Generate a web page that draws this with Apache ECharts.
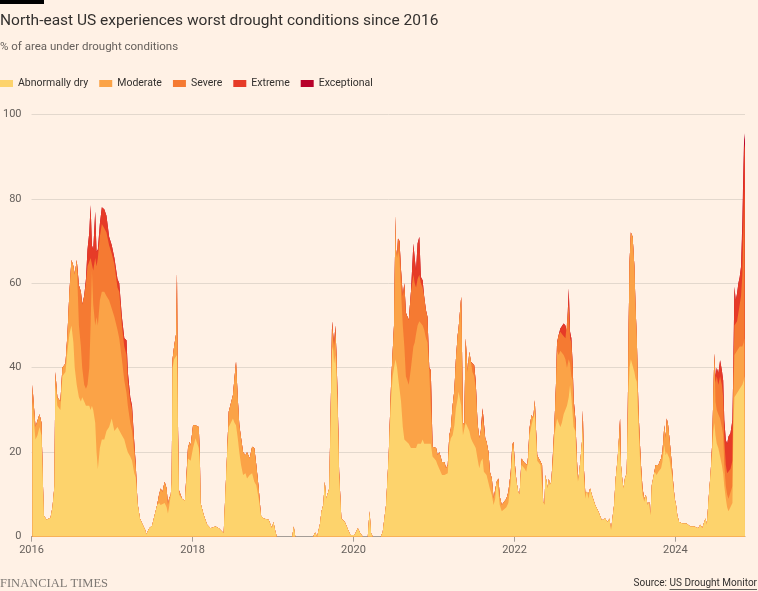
<!DOCTYPE html>
<html><head><meta charset="utf-8">
<script src="https://cdn.jsdelivr.net/npm/echarts@6/dist/echarts.min.js"></script>
<style>html,body{margin:0;padding:0;background:#fff1e5;}#c{width:758px;height:591px;}</style>
</head><body><div id="c"></div>
<script>
// Weekly-ish readings, % of area (non-cumulative per category)
const dates = [
'2016-01-05','2016-01-10','2016-01-19','2016-01-28','2016-02-06','2016-02-15','2016-02-22','2016-02-26','2016-03-09','2016-03-27','2016-04-05','2016-04-14','2016-04-18','2016-04-27','2016-05-11','2016-05-20','2016-06-03','2016-06-12','2016-06-21','2016-06-30','2016-07-09','2016-07-15','2016-07-24','2016-08-03','2016-08-12','2016-08-18','2016-08-27','2016-09-04','2016-09-11','2016-09-19','2016-09-25','2016-10-01','2016-10-07','2016-10-16','2016-10-22','2016-10-28','2016-11-06','2016-11-15','2016-11-26','2016-12-06','2016-12-18','2016-12-30',
'2017-01-11','2017-01-25','2017-02-02','2017-02-14','2017-02-25','2017-03-07','2017-03-13','2017-03-24','2017-04-01','2017-04-11','2017-04-18','2017-04-26','2017-05-07','2017-05-18','2017-05-31','2017-06-05','2017-06-18','2017-07-01','2017-07-10','2017-07-24','2017-08-02','2017-08-09','2017-08-17','2017-08-27','2017-09-05','2017-09-11','2017-09-16','2017-09-24','2017-09-28','2017-10-02','2017-10-09','2017-10-18','2017-10-22','2017-10-27','2017-10-31','2017-11-14','2017-11-27','2017-12-05','2017-12-11','2017-12-19','2017-12-23',
'2018-01-03','2018-01-14','2018-01-29','2018-02-03','2018-02-06','2018-02-21','2018-03-08','2018-03-23','2018-04-15','2018-04-30','2018-05-22','2018-05-30','2018-06-06','2018-06-14','2018-06-21','2018-07-03','2018-07-10','2018-07-17','2018-07-25','2018-08-01','2018-08-09','2018-08-18','2018-08-29','2018-09-05','2018-09-17','2018-09-28','2018-10-08','2018-10-17','2018-10-28','2018-11-07','2018-11-19','2018-12-12','2018-12-27',
'2019-01-03','2019-01-10','2019-01-18','2019-03-29','2019-04-05','2019-04-12','2019-07-02','2019-07-11','2019-07-20','2019-08-02','2019-08-09','2019-08-17','2019-08-24','2019-08-30','2019-09-13','2019-09-20','2019-09-26','2019-10-01','2019-10-05','2019-10-11','2019-10-16','2019-10-22','2019-10-28','2019-11-07','2019-11-23','2019-12-08','2019-12-18',
'2020-01-06','2020-01-21','2020-02-01','2020-02-13','2020-03-06','2020-03-14','2020-03-21','2020-03-29','2020-05-04','2020-05-13','2020-05-28','2020-06-09','2020-06-20','2020-06-27','2020-07-03','2020-07-10','2020-07-12','2020-07-17','2020-07-21','2020-07-28','2020-08-04','2020-08-12','2020-08-19','2020-08-26','2020-09-08','2020-09-18','2020-09-29','2020-10-05','2020-10-11','2020-10-18','2020-10-26','2020-11-02','2020-11-10','2020-11-17','2020-11-25','2020-12-02','2020-12-10','2020-12-17','2020-12-25',
'2021-01-02','2021-01-10','2021-01-17','2021-01-25','2021-02-06','2021-02-17','2021-02-24','2021-03-04','2021-03-11','2021-03-18','2021-03-26','2021-04-03','2021-04-10','2021-04-18','2021-04-22','2021-04-28','2021-05-04','2021-05-07','2021-05-12','2021-05-18','2021-05-24','2021-05-28','2021-06-02','2021-06-10','2021-06-17','2021-06-24','2021-07-02','2021-07-09','2021-07-17','2021-07-25','2021-08-01','2021-08-09','2021-08-15','2021-08-21','2021-08-27','2021-09-05','2021-09-11','2021-09-20','2021-09-28','2021-10-05','2021-10-12','2021-10-20','2021-10-26','2021-11-04','2021-11-15','2021-11-25','2021-12-04','2021-12-15','2021-12-22','2021-12-27',
'2022-01-03','2022-01-10','2022-01-18','2022-01-24','2022-01-28','2022-02-02','2022-02-08','2022-02-17','2022-02-23','2022-02-28','2022-03-04','2022-03-10','2022-03-19','2022-03-27','2022-04-03','2022-04-09','2022-04-14','2022-04-21','2022-04-29','2022-05-06','2022-05-11','2022-05-17','2022-05-21','2022-05-26','2022-06-01','2022-06-06','2022-06-10','2022-06-17','2022-06-24','2022-07-01','2022-07-08','2022-07-13','2022-07-20','2022-07-28','2022-08-04','2022-08-12','2022-08-20','2022-08-27','2022-09-04','2022-09-10','2022-09-16','2022-09-22','2022-09-26','2022-10-04','2022-10-11','2022-10-16','2022-10-22','2022-10-29','2022-11-04','2022-11-07','2022-11-12','2022-11-18','2022-11-25','2022-12-03','2022-12-10','2022-12-18','2022-12-26',
'2023-01-02','2023-01-17','2023-02-01','2023-02-16','2023-02-28','2023-03-08','2023-03-15','2023-03-23','2023-03-29','2023-04-05','2023-04-14','2023-04-20','2023-04-25','2023-04-29','2023-05-06','2023-05-11','2023-05-17','2023-05-25','2023-05-29','2023-06-03','2023-06-07','2023-06-13','2023-06-21','2023-06-29','2023-07-04','2023-07-10','2023-07-17','2023-07-23','2023-07-29','2023-08-05','2023-08-13','2023-08-20','2023-08-28','2023-09-04','2023-09-10','2023-09-16','2023-09-22','2023-09-28','2023-10-03','2023-10-08','2023-10-16','2023-10-22','2023-10-28','2023-11-03','2023-11-08','2023-11-12','2023-11-18','2023-11-23','2023-11-29','2023-12-05','2023-12-11','2023-12-17','2023-12-23','2023-12-29',
'2024-01-04','2024-01-10','2024-01-18','2024-02-02','2024-02-11','2024-02-20','2024-02-29','2024-03-09','2024-03-18','2024-03-27','2024-04-05','2024-04-14','2024-04-23','2024-05-02','2024-05-11','2024-05-17','2024-05-23','2024-05-29','2024-06-04','2024-06-09','2024-06-16','2024-06-21','2024-06-26','2024-07-01','2024-07-07','2024-07-14','2024-07-22','2024-07-30','2024-08-05','2024-08-10','2024-08-17','2024-08-23','2024-08-29','2024-09-07','2024-09-16','2024-09-20','2024-09-25','2024-10-01','2024-10-07','2024-10-13','2024-10-19','2024-10-25','2024-10-31','2024-11-06','2024-11-09','2024-11-12'
];
const abnormallyDry = [
32,28,23,24,26,24,12,5,4,4.5, 7,12,36,31,30,38,39,44,48,50, 46,40,36,33,32,33,32,31,31,31, 30,31,30,27,20,16,21,23,23,25, 26,28,
25,26,26,24,23,21,20,19,18,15, 14,8,4.3,3,1.6,0.5,2,2.6,2.4,7.5, 8,7.5,7.5,8,7,5.5,7,10,13,40, 42,42,43,22,10,9,8.5,14,18.5,18.5, 18,
21,23.3,21,17,8,5,2.8,2,2.4,2, 0.8,0.4,19,26,26.4,28,27,26.4,23.3,20, 17,14.6,15,13.8,14.6,15,13,12.2,9,5, 4.3,4,2,
3.5,1.6,0,0,2.4,0,0,1,0,3, 6,7.5,13,9,11.4,29,45,44,41,43, 38,28,14,4.3,3.5,1.6,0.4,
0.4,2,0.8,0,0,6,0.8,0,0,1.2, 7.5,19.3,33,38,40,42,42,40,38,35, 32,26,23,23,22,21,21,21,21,22, 22,22,23,22,22,22,22,22,19,
18.5,18,17,17,14.6,14.6,14.6,15,21.7,23.3, 24,26.4,30.4,32.7,34.3,32.7,31,28,24,24, 27,27,27,25,23.3,22.5,21.7,21,18.5,16.2, 17.8,18.5,15.4,15.4,14.6,14.6,11.4,9.9,7.5,9, 13,10.6,7.5,6,6.5,7,8,13,20,21,
15.5,13,10.6,10,13.8,17,17,16,15.4,15.5, 18,24,26.4,26.4,29.6,23,18,17.7,17,17, 8.3,7.5,14.6,15,11.4,13.8,12.2,13,17,24, 26.4,28,27,26,27,29,29,31,33,36, 33,33,26,25,16,13,15.4,19.3,23,26, 14,9,11,9,11.4,9.9,9.5,
7.5,5.9,3.9,4.3,3.5,4.3,1.6,5,7.5,13.8, 18.5,23.3,23,17,13,11.4,13.8,15,25,35, 40,42,42,39,37.5,36.7,27,20,14.6,9.9, 8.3,9.9,7.5,8.3,5,12.2,13.8,15.4,15.4,14.6, 15.4,15.4,16.2,17.7,20,21.7,19.3,20,20,18.5, 16.2,14.6,11.4,9,
7.5,5,3.5,3.1,2.8,3.1,2.8,2.4,2.8,2.4, 2.6,2,2.8,2,3.5,4.3,2.8,7.5,11.8,15, 20,25,27,24,22,21,19,17,15,12, 9,7,6,6,8,25,33,33,34,34, 35,35,36,37,38,38
];
const moderate = [
4,4,3,2,3,3,0,0,0,0, 0,0,3,2,2,2,2,4,10,15.5, 18,22,29.5,17,13,7,4,4,5,9, 20,32,25,23,32,34,35,35,35,32, 30,26,
27,23,21,18,14,13,11,8,7,5, 2,0,0,0,0,0,0,0,0,0, 2,3.9,3.1,5,4.4,2,2,0,0,2, 3,6,19.5,3,1,0,0,1.4,2.5,4, 3.5,
5.4,3.1,5,2,0,0,0,0,0,0, 0,0,0,3.6,4.6,5.5,10.5,15,9.4,6.4, 6.3,5.4,4.3,6.2,3.9,6.3,8,4.8,2.4,0, 0,0,0,
0,0,0,0,0,0,0,0,0,0, 0,0,0,0,0,2,4,5,3,5, 4,2,1.4,0,0,0,0,
0,0,0,0,0,0,0,0,0,0, 0,0,3.7,5.8,10,34,26,26,30,31, 26,24,22,15,14,19,24,25,27,28, 29,29,27,27,25,24,17,17.4,2.3,
2.5,3,2.3,3,3.1,3.1,1.6,2,2.3,2.3, 7,8.3,11.6,15,15,20.3,25.8,19,3,2.4, 20,20,12,18.8,18.1,16.5,16.3,14,8.5,7.1, 7.2,9.5,12.6,7.9,7.9,5.4,4,3.9,1.5,0, 0,3.2,2,1.5,1.8,2,2.6,2.4,1.7,1.5,
1.5,0,0,0,0,1.5,1,1.4,2.4,1.5, 1.3,1.6,2.4,1.6,2.7,1.9,1.3,0.8,0.8,0, 0,0,0,0,0,0,0,0,2.3,2.4, 9.5,16,16,18,17,14,13,9,9,5, 5,4,5,2,2.5,0,0,0,0,4, 2,1.6,0,1.3,0,0,0,
0,0,0,0,0,0,0,0,0,0, 0,0,5,0,0,0,0,0,0,15, 25,30,29,25,17.3,10.3,4,3.3,2.4,1.5, 0.7,0,0,0,0,0,0,0,1.6,2.4, 1.6,2.4,2.3,2.3,3.3,4.7,4,8,6.4,4.8, 3.8,1.6,0.8,0,
0,0,0,0,0,0,0,0,0,0, 0,0,0,0,0,0,0,0,0,0, 2,8,16.4,8,8,8,9,9,9,5, 3,3,3,3,4,8,10,10,10,10, 10,10,9,9,9,9
];
const severe = [
0,0,0,0,0,0,0,0,0,0, 0,0,0,0,0,0,0,0,0,0, 0,0,0,9.5,13,15,21,25,28,24, 16,3,8,16,12,16,15,16,15,15, 13,13,
12.5,10,11,8,8,9,6,5,5,2, 1,0,0,0,0,0,0,0,0,0, 0,0,0,0,0,0,0,0,0,0, 0,0,0,0,0,0,0,0,0,0, 0,
0,0,0,0,0,0,0,0,0,0, 0,0,0,0,0,0,0,0,0,0, 0,0,0,0,0,0,0,0,0,0, 0,0,0,
0,0,0,0,0,0,0,0,0,0, 0,0,0,0,0,0,2,2.3,1.4,2, 1,1,0,0,0,0,0,
0,0,0,0,0,0,0,0,0,0, 0,0,0,0,0,0,0,0,2.6,4, 5,7,15,15,15.3,18,17,14,11,11, 11,9,9,7.8,6.6,6,1,0,0,
0,0,0,0,0,0,0,0,0,0, 0,0,0,0,0,0,0,0,0,0, 0,0,0,0,0,2.4,2.6,1.7,0,0, 0,2.4,2.8,0,0,0,0,0,0,0, 0,0,0,0,0,0,0,0,0,0,
0,0,0,0,0,0,0,0,0,0, 0,0,0,0,0,0,0,0,0,0, 0,0,0,0,0,0,0,0,0,0, 0,2,4.7,4.5,4,5,5,7,13,6, 8,3.6,1.7,1,0,0,0,0,0,0, 0,0,0,0,0,0,0,
0,0,0,0,0,0,0,0,0,0, 0,0,0,0,0,0,0,0,0,0, 0,0,0,0,0,0,0,0,0,0, 0,0,0,0,0,0,0,0,0,0, 0,0,0,0,0,0,0,0,0,0, 0,0,0,0,
0,0,0,0,0,0,0,0,0,0, 0,0,0,0,0,0,0,0,0,0, 0,0,0,4.5,8,7,10,10,9,6, 5,5,6,7,6,5,7,7,7,9, 10,12,17,29,35,35
];
const extreme = [
0,0,0,0,0,0,0,0,0,0, 0,0,0,0,0,0,0,0,0,0, 0,0,0,0,0,0,0,1,4,8, 12.5,3,5,11,3.5,2,3,4,4.5,4, 2,2,
1.5,2,2,2,2,3.5,2,1,1,0.5, 0,0,0,0,0,0,0,0,0,0, 0,0,0,0,0,0,0,0,0,0, 0,0,0,0,0,0,0,0,0,0, 0,
0,0,0,0,0,0,0,0,0,0, 0,0,0,0,0,0,0,0,0,0, 0,0,0,0,0,0,0,0,0,0, 0,0,0,
0,0,0,0,0,0,0,0,0,0, 0,0,0,0,0,0,0,0,0,0, 0,0,0,0,0,0,0,
0,0,0,0,0,0,0,0,0,0, 0,0,0,0,0,0,0,0,0,0, 0,0,0,0,0,0,7.4,6,4,8.4, 9,1.5,1.7,0,0,0,0,0,0,
0,0,0,0,0,0,0,0,0,0, 0,0,0,0,0,0,0,0,0,0, 0,0,0,0,0,0,0,0,0,0, 0,0,0,0,0,0,0,0,0,0, 0,0,0,0,0,0,0,0,0,0,
0,0,0,0,0,0,0,0,0,0, 0,0,0,0,0,0,0,0,0,0, 0,0,0,0,0,0,0,0,0,0, 0,0,0,0.8,1.7,2.5,3,1.5,3.8,1.5, 1,0,0,0,0,0,0,0,0,0, 0,0,0,0,0,0,0,
0,0,0,0,0,0,0,0,0,0, 0,0,0,0,0,0,0,0,0,0, 0,0,0,0,0,0,0,0,0,0, 0,0,0,0,0,0,0,0,0,0, 0,0,0,0,0,0,0,0,0,0, 0,0,0,0,
0,0,0,0,0,0,0,0,0,0, 0,0,0,0,0,0,0,0,0,0, 0,0,0,1.5,2,2.7,3.8,3.4,4,4.6, 5.9,7,8.7,8.5,9.6,2,9.2,6,6.6,7, 6.5,6.9,11,13,11,10
];
const exceptional = [
0,0,0,0,0,0,0,0,0,0, 0,0,0,0,0,0,0,0,0,0, 0,0,0,0,0,0,0,0,0,0, 0,0,0,0,0,0,0,0,0,0, 0,0,
0,0,0,0,0,0,0,0,0,0, 0,0,0,0,0,0,0,0,0,0, 0,0,0,0,0,0,0,0,0,0, 0,0,0,0,0,0,0,0,0,0, 0,
0,0,0,0,0,0,0,0,0,0, 0,0,0,0,0,0,0,0,0,0, 0,0,0,0,0,0,0,0,0,0, 0,0,0,
0,0,0,0,0,0,0,0,0,0, 0,0,0,0,0,0,0,0,0,0, 0,0,0,0,0,0,0,
0,0,0,0,0,0,0,0,0,0, 0,0,0,0,0,0,0,0,0,0, 0,0,0,0,0,0,0,0,0,0, 0,0,0,0,0,0,0,0,0,
0,0,0,0,0,0,0,0,0,0, 0,0,0,0,0,0,0,0,0,0, 0,0,0,0,0,0,0,0,0,0, 0,0,0,0,0,0,0,0,0,0, 0,0,0,0,0,0,0,0,0,0,
0,0,0,0,0,0,0,0,0,0, 0,0,0,0,0,0,0,0,0,0, 0,0,0,0,0,0,0,0,0,0, 0,0,0,0,0,0,0,0,0,0, 0,0,0,0,0,0,0,0,0,0, 0,0,0,0,0,0,0,
0,0,0,0,0,0,0,0,0,0, 0,0,0,0,0,0,0,0,0,0, 0,0,0,0,0,0,0,0,0,0, 0,0,0,0,0,0,0,0,0,0, 0,0,0,0,0,0,0,0,0,0, 0,0,0,0,
0,0,0,0,0,0,0,0,0,0, 0,0,0,0,0,0,0,0,0,0, 0,0,0,0,0,0,0,0,0,0, 0,0,0,0,0,0,0,0,0,0, 0,0,2,2.7,2.5,2
];
const categories = ['Abnormally dry','Moderate','Severe','Extreme','Exceptional'];
const yearTicks = ['2016','2018','2020','2022','2024'];
const axisStart = '2016-01-01';
const axisEnd = '2024-11-12';

const colors = ['#fdd36c','#fba347','#f57a32','#e63b27','#b8002a'];
const layers = [abnormallyDry, moderate, severe, extreme, exceptional];
layers.forEach((a,k)=>{ if (a.length !== dates.length) throw new Error('length mismatch ' + categories[k] + ' ' + a.length + ' vs ' + dates.length); });

// Cumulative tops of each band (band k spans cum[k-1]..cum[k]); drawn back-to-front so each band shows
const cum = layers.map((_, k) => dates.map((d, i) => layers.slice(0, k + 1).reduce((s, a) => s + a[i], 0)));

const FONT = 'Roboto, "Noto Sans", sans-serif';
const chart = echarts.init(document.getElementById('c'), null, {renderer:'canvas'});

const srcFont = '10px Roboto';
const ctx = document.createElement('canvas').getContext('2d');
ctx.font = srcFont;
const linkW = ctx.measureText('US Drought Monitor').width;

const series = [];
for (let k = categories.length - 1; k >= 0; k--) {
  series.push({
    name: categories[k], type: 'line', symbol: 'none', showSymbol: false,
    lineStyle: {width: 0}, itemStyle: {color: colors[k]},
    areaStyle: {color: colors[k], opacity: 1},
    emphasis: {disabled: true}, silent: true,
    data: dates.map((d, i) => [Date.parse(d), cum[k][i]])
  });
}

chart.setOption({
  animation: false,
  backgroundColor: '#fff1e5',
  title: [
    {text: 'North-east US experiences worst drought conditions since 2016', left: 0, top: 13, padding: 0,
     textStyle: {fontFamily: FONT, fontSize: 15.5, fontWeight: 'normal', color: '#33302e'}},
    {text: '% of area under drought conditions', left: 0, top: 41, padding: 0,
     textStyle: {fontFamily: FONT, fontSize: 11.5, fontWeight: 'normal', color: '#66605c'}}
  ],
  legend: {
    data: categories, left: 0, top: 78, padding: 0, icon: 'rect', itemWidth: 13, itemHeight: 7, itemGap: 11,
    textStyle: {fontFamily: FONT, fontSize: 10.5, color: '#33302e'}, selectedMode: false
  },
  grid: {left: 27, right: 13, top: 114.3, bottom: 54.3, containLabel: false},
  xAxis: {
    type: 'value', min: Date.parse(axisStart), max: Date.parse(axisEnd),
    splitLine: {show: false},
    axisLine: {show: true, lineStyle: {color: '#a59d96', width: 1}},
    axisTick: {show: true, length: 5, lineStyle: {color: '#a59d96'}, customValues: yearTicks.map(y => Date.parse(y + '-01-01'))},
    axisLabel: {show: true, customValues: yearTicks.map(y => Date.parse(y + '-01-01')), margin: 8,
      formatter: v => String(new Date(v).getUTCFullYear()), color: '#66605c', fontFamily: FONT, fontSize: 11}
  },
  yAxis: {
    type: 'value', min: 0, max: 100, interval: 20,
    axisLine: {show: false}, axisTick: {show: false},
    splitLine: {show: true, lineStyle: {color: '#e3d8cd', width: 1}},
    axisLabel: {color: '#66605c', fontFamily: FONT, fontSize: 11, margin: 10}
  },
  series,
  graphic: [
    {type: 'rect', left: 0, top: 0, shape: {width: 44, height: 4}, style: {fill: '#000'}},
    {type: 'text', left: 0, top: 577, style: {text: 'FINANCIAL TIMES', font: '12.5px "Liberation Serif", serif', fill: '#7d7873'}},
    {type: 'text', right: 1, top: 578, style: {text: 'Source: US Drought Monitor', font: srcFont, fill: '#33302e'}},
    {type: 'rect', left: 757 - linkW, top: 589, shape: {width: linkW, height: 0.8}, style: {fill: '#33302e'}}
  ]
});
</script></body></html>
